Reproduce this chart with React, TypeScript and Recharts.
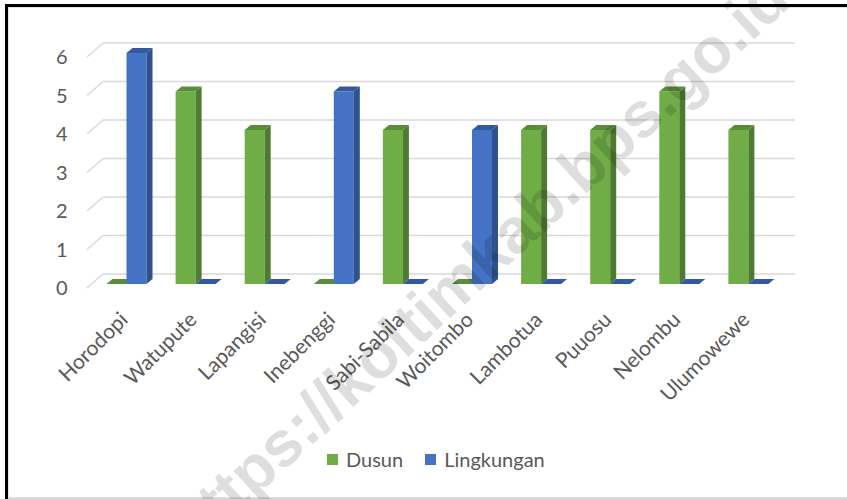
import React from 'react';
import { BarChart, Bar, XAxis, YAxis, CartesianGrid, Legend } from 'recharts';

const villages = [
  'Horodopi', 'Watupute', 'Lapangisi', 'Inebenggi', 'Sabi-Sabila',
  'Woitombo', 'Lambotua', 'Puuosu', 'Nelombu', 'Ulumowewe',
];
const dusun = [0, 5, 4, 0, 4, 0, 4, 4, 5, 4];
const lingkungan = [6, 0, 0, 5, 0, 4, 0, 0, 0, 0];
const yTicks = [0, 1, 2, 3, 4, 5, 6];

const data = villages.map((name, i) => ({
  name,
  Dusun: dusun[i],
  Lingkungan: lingkungan[i],
}));

const FONT = 'Lato, "Open Sans", sans-serif';
const TEXT = '#595959';
const GRID = '#d9d9d9';

const DEPTH_X = 6;
const DEPTH_Y = 5;

// fake 3d column: front face, right side, top cap
const Bar3D = (props: any) => {
  const { x, y, width, height, front, side, top } = props;
  const h = Math.max(height || 0, 0);
  const r = x + width;
  return (
    <g>
      {h > 0 && <rect x={x} y={y} width={width} height={h} fill={front} />}
      {h > 0 && (
        <polygon
          points={`${r},${y} ${r + DEPTH_X},${y - DEPTH_Y} ${r + DEPTH_X},${y + h - DEPTH_Y} ${r},${y + h}`}
          fill={side}
        />
      )}
      <polygon
        points={`${x},${y} ${x + DEPTH_X},${y - DEPTH_Y} ${r + DEPTH_X},${y - DEPTH_Y} ${r},${y}`}
        fill={top}
      />
    </g>
  );
};

// back wall line plus the short floor diagonal on the left
const GridLine3D = (props: any) => {
  const { x1, x2, y1 } = props;
  return (
    <g key={props.key}>
      <line x1={x1 - 4.5} y1={y1 + 4} x2={x1 + 11.5} y2={y1 - 10} stroke={GRID} strokeWidth={1.5} />
      <line x1={x1 + 11.5} y1={y1 - 10} x2={x2 + 12.5} y2={y1 - 10} stroke={GRID} strokeWidth={1.5} />
    </g>
  );
};

const YTick = (props: any) => {
  const { x, y, payload } = props;
  return (
    <text x={x - 16} y={y + 4} dy="0.36em" textAnchor="end" fill={TEXT} fontSize={20} fontFamily={FONT}>
      {payload.value}
    </text>
  );
};

const XTick = (props: any) => {
  const { x, y, payload } = props;
  return (
    <g transform={`translate(${x + 3},${y + 29}) rotate(-45)`}>
      <text x={0} y={0} textAnchor="end" fill={TEXT} fontSize={21} fontFamily={FONT}>
        {payload.value}
      </text>
    </g>
  );
};

const LegendBox = () => (
  <div style={{ display: 'flex', alignItems: 'center', marginLeft: 327, fontFamily: FONT, fontSize: 20, color: TEXT }}>
    <span style={{ width: 11, height: 11, background: '#70AD47', display: 'inline-block' }} />
    <span style={{ marginLeft: 8 }}>Dusun</span>
    <span style={{ width: 11, height: 11, background: '#4472C4', display: 'inline-block', marginLeft: 22 }} />
    <span style={{ marginLeft: 8 }}>Lingkungan</span>
  </div>
);

export default function App() {
  return (
    <div style={{ position: 'absolute', left: 0, top: 0, width: 847, height: 499, background: '#fff', overflow: 'hidden' }}>
      <div
        style={{
          position: 'absolute', left: 5, top: 4, right: 0, bottom: 0,
          borderTop: '3px solid #000', borderLeft: '3px solid #000',
        }}
      />
      <div
        style={{
          position: 'absolute', left: 8, top: 7, right: 0, height: 489,
          borderTop: '1px solid #e4e4e4', borderLeft: '1px solid #e4e4e4', borderBottom: '2px solid #dcdcdc',
        }}
      />
      <div style={{ position: 'absolute', left: 0, top: 0 }}>
        <BarChart
          width={847}
          height={499}
          data={data}
          margin={{ top: 53, right: 64.5, bottom: 115, left: 0 }}
          barSize={20}
          barGap={0}
        >
          <CartesianGrid vertical={false} horizontal={GridLine3D} />
          <XAxis
            dataKey="name"
            axisLine={false}
            tickLine={false}
            interval={0}
            height={100}
            tick={<XTick />}
          />
          <YAxis
            domain={[0, 6]}
            ticks={yTicks}
            axisLine={false}
            tickLine={false}
            width={91.5}
            tick={<YTick />}
          />
          <Legend
            layout="horizontal"
            verticalAlign="middle"
            align="center"
            wrapperStyle={{ top: 447, left: 0, width: 847 }}
            content={<LegendBox />}
          />
          <Bar
            dataKey="Dusun"
            isAnimationActive={false}
            fill="#70AD47"
            shape={(p: any) => <Bar3D {...p} front="#70AD47" side="#4E7A32" top="#5A8C3A" />}
          />
          <Bar
            dataKey="Lingkungan"
            isAnimationActive={false}
            fill="#4472C4"
            shape={(p: any) => <Bar3D {...p} front="#4472C4" side="#2F528F" top="#35599E" />}
          />
        </BarChart>
      </div>
      <svg
        width={847}
        height={499}
        style={{ position: 'absolute', left: 0, top: 0, pointerEvents: 'none' }}
      >
        <text
          x={478}
          y={263}
          transform="rotate(-42.5 478 263)"
          textAnchor="middle"
          dominantBaseline="central"
          fontFamily='"Liberation Sans", Arial, sans-serif'
          fontWeight="bold"
          fontSize={64}
          fill="#000"
          fillOpacity={0.13}
        >
          https://koltimkab.bps.go.id
        </text>
      </svg>
    </div>
  );
}
